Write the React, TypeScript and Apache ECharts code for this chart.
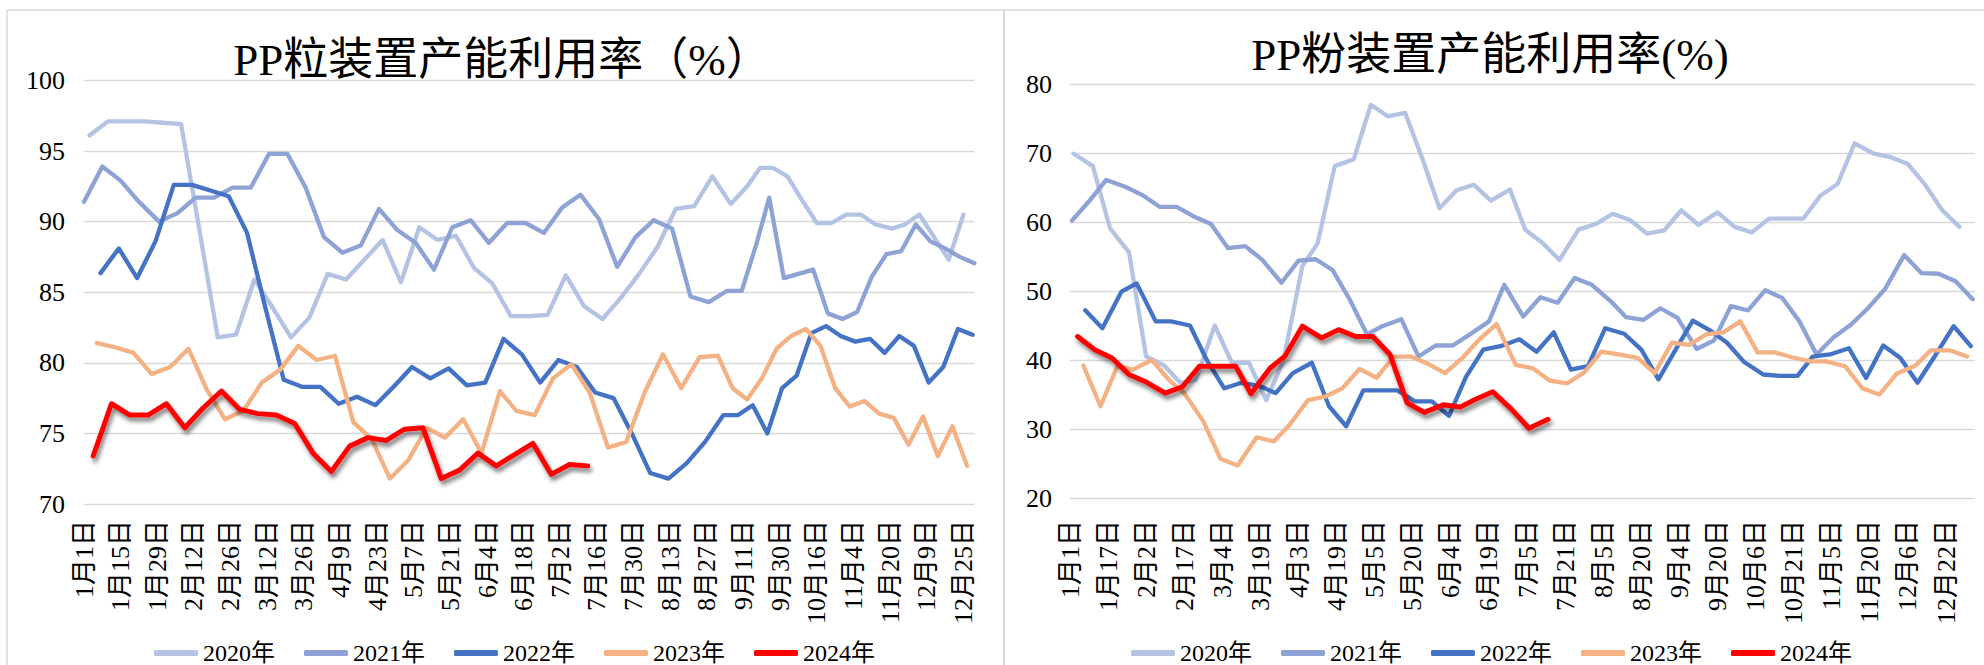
import React, { useEffect, useRef } from 'react';
import * as echarts from 'echarts';

// ---- tick labels ----
const granuleTicks = ['1月1日', '1月15日', '1月29日', '2月12日', '2月26日', '3月12日', '3月26日', '4月9日', '4月23日', '5月7日', '5月21日', '6月4日', '6月18日', '7月2日', '7月16日', '7月30日', '8月13日', '8月27日', '9月11日', '9月30日', '10月16日', '11月4日', '11月20日', '12月9日', '12月25日'];
const powderTicks = ['1月1日', '1月17日', '2月2日', '2月17日', '3月4日', '3月19日', '4月3日', '4月19日', '5月5日', '5月20日', '6月4日', '6月19日', '7月5日', '7月21日', '8月5日', '8月20日', '9月4日', '9月20日', '10月6日', '10月21日', '11月5日', '11月20日', '12月6日', '12月22日'];
const years = ['2020年', '2021年', '2022年', '2023年', '2024年'];
const colors = ['#B4C2E4', '#8EA2D5', '#4472C4', '#F4B183', '#FF0000'];

// ---- PP粒 (x in tick-label units, y in %) ----
const granule2020: [number, number][] = [[0.15, 96.1], [0.65, 97.1], [1.15, 97.1], [1.65, 97.1], [2.15, 97.0], [2.65, 96.9], [3.15, 89.4], [3.65, 81.8], [4.15, 82.0], [4.65, 85.9], [5.15, 83.9], [5.65, 81.8], [6.15, 83.2], [6.65, 86.3], [7.15, 85.9], [7.65, 87.3], [8.15, 88.7], [8.65, 85.7], [9.15, 89.6], [9.65, 88.7], [10.15, 89.0], [10.65, 86.7], [11.15, 85.6], [11.65, 83.3], [12.15, 83.3], [12.65, 83.4], [13.15, 86.2], [13.65, 84.0], [14.15, 83.1], [14.65, 84.6], [15.15, 86.3], [15.65, 88.2], [16.15, 90.9], [16.65, 91.1], [17.15, 93.2], [17.65, 91.25], [18.1, 92.5], [18.45, 93.8], [18.8, 93.8], [19.2, 93.2], [19.6, 91.5], [20.0, 89.9], [20.4, 89.9], [20.8, 90.5], [21.2, 90.5], [21.6, 89.8], [22.05, 89.5], [22.4, 89.8], [22.8, 90.5], [23.2, 88.9], [23.6, 87.3], [24.0, 90.5]];
const granule2021: [number, number][] = [[0, 91.4], [0.5, 93.9], [1.0, 92.9], [1.5, 91.4], [2.05, 90.0], [2.55, 90.6], [3.05, 91.7], [3.55, 91.7], [4.05, 92.4], [4.55, 92.4], [5.05, 94.8], [5.55, 94.8], [6.05, 92.4], [6.55, 88.9], [7.05, 87.8], [7.55, 88.3], [8.05, 90.9], [8.55, 89.4], [9.05, 88.5], [9.55, 86.6], [10.05, 89.6], [10.55, 90.1], [11.05, 88.5], [11.55, 89.9], [12.05, 89.9], [12.55, 89.2], [13.05, 91.0], [13.55, 91.9], [14.05, 90.2], [14.55, 86.8], [15.05, 88.9], [15.55, 90.1], [16.05, 89.5], [16.55, 84.7], [17.05, 84.3], [17.55, 85.1], [17.95, 85.1], [18.35, 88.4], [18.7, 91.7], [19.1, 86.0], [19.5, 86.3], [19.9, 86.6], [20.3, 83.5], [20.7, 83.1], [21.1, 83.6], [21.5, 86.1], [21.9, 87.7], [22.3, 87.9], [22.7, 89.8], [23.1, 88.6], [23.5, 88.1], [23.9, 87.5], [24.3, 87.05]];
const granule2022: [number, number][] = [[0.45, 86.35], [0.95, 88.1], [1.45, 86.0], [1.95, 88.6], [2.45, 92.6], [2.95, 92.6], [3.45, 92.2], [3.95, 91.8], [4.45, 89.2], [4.95, 83.9], [5.45, 78.8], [5.95, 78.3], [6.45, 78.3], [6.95, 77.1], [7.45, 77.6], [7.95, 77.0], [8.45, 78.3], [8.95, 79.7], [9.45, 78.9], [9.95, 79.6], [10.45, 78.4], [10.95, 78.6], [11.45, 81.7], [11.95, 80.6], [12.45, 78.6], [12.95, 80.2], [13.45, 79.7], [13.95, 77.9], [14.45, 77.5], [14.95, 75.0], [15.45, 72.2], [15.95, 71.8], [16.45, 72.9], [16.95, 74.4], [17.45, 76.3], [17.85, 76.3], [18.25, 77.0], [18.65, 75.0], [19.05, 78.2], [19.45, 79.1], [19.85, 82.1], [20.25, 82.6], [20.65, 81.9], [21.05, 81.5], [21.45, 81.7], [21.85, 80.7], [22.25, 81.9], [22.65, 81.2], [23.05, 78.6], [23.45, 79.7], [23.85, 82.4], [24.25, 81.98]];
const granule2023: [number, number][] = [[0.35, 81.4], [0.85, 81.1], [1.35, 80.7], [1.85, 79.2], [2.35, 79.7], [2.85, 81.0], [3.35, 78.1], [3.85, 76.0], [4.35, 76.6], [4.85, 78.6], [5.35, 79.5], [5.85, 81.2], [6.35, 80.2], [6.85, 80.5], [7.35, 75.8], [7.85, 74.6], [8.35, 71.8], [8.85, 73.1], [9.35, 75.4], [9.85, 74.7], [10.35, 76.0], [10.85, 73.6], [11.35, 78.0], [11.8, 76.6], [12.3, 76.3], [12.8, 78.9], [13.3, 79.9], [13.8, 77.9], [14.3, 74.0], [14.8, 74.4], [15.3, 77.9], [15.8, 80.6], [16.3, 78.2], [16.8, 80.4], [17.3, 80.5], [17.7, 78.2], [18.1, 77.4], [18.5, 78.9], [18.9, 81.0], [19.3, 81.9], [19.7, 82.4], [20.1, 81.2], [20.5, 78.2], [20.9, 76.9], [21.3, 77.3], [21.7, 76.4], [22.1, 76.1], [22.5, 74.2], [22.9, 76.2], [23.3, 73.4], [23.7, 75.5], [24.1, 72.7]];
const granule2024: [number, number][] = [[0.25, 73.4], [0.75, 77.1], [1.25, 76.3], [1.75, 76.3], [2.25, 77.1], [2.75, 75.4], [3.25, 76.8], [3.75, 78.0], [4.25, 76.7], [4.75, 76.4], [5.25, 76.3], [5.75, 75.7], [6.25, 73.6], [6.75, 72.3], [7.25, 74.1], [7.75, 74.7], [8.25, 74.5], [8.75, 75.3], [9.25, 75.4], [9.75, 71.8], [10.25, 72.4], [10.75, 73.6], [11.25, 72.7], [11.75, 73.5], [12.25, 74.3], [12.75, 72.1], [13.25, 72.8], [13.75, 72.7]];

// ---- PP粉 ----
const powder2020: [number, number][] = [[0.1, 69.9], [0.6, 68.1], [1.05, 59.1], [1.55, 55.6], [2.0, 40.5], [2.45, 39.3], [2.9, 36.7], [3.3, 37.1], [3.8, 45.0], [4.25, 39.6], [4.7, 39.6], [5.15, 34.2], [5.6, 39.8], [6.1, 53.6], [6.5, 56.9], [6.95, 68.1], [7.45, 69.1], [7.9, 77.0], [8.35, 75.3], [8.8, 75.8], [9.25, 69.2], [9.7, 62.0], [10.15, 64.6], [10.6, 65.4], [11.05, 63.1], [11.55, 64.7], [11.95, 58.9], [12.4, 57.0], [12.85, 54.5], [13.35, 58.9], [13.8, 59.7], [14.25, 61.2], [14.7, 60.3], [15.15, 58.3], [15.6, 58.8], [16.05, 61.7], [16.5, 59.6], [17.0, 61.4], [17.45, 59.3], [17.9, 58.5], [18.35, 60.5], [18.8, 60.5], [19.25, 60.5], [19.7, 63.8], [20.15, 65.5], [20.6, 71.4], [21.1, 69.9], [21.55, 69.4], [22.0, 68.4], [22.45, 65.4], [22.9, 61.7], [23.35, 59.3]];
const powder2021: [number, number][] = [[0.05, 60.2], [0.5, 63.0], [0.95, 66.1], [1.45, 65.1], [1.9, 63.9], [2.35, 62.2], [2.8, 62.2], [3.25, 60.8], [3.7, 59.7], [4.15, 56.2], [4.6, 56.5], [5.05, 54.5], [5.55, 51.2], [6.0, 54.4], [6.45, 54.6], [6.9, 53.0], [7.35, 48.7], [7.8, 43.7], [8.2, 44.9], [8.7, 45.9], [9.15, 40.5], [9.6, 42.1], [10.05, 42.1], [10.55, 43.9], [11.0, 45.6], [11.4, 50.9], [11.9, 46.3], [12.35, 49.1], [12.8, 48.3], [13.25, 51.9], [13.7, 50.9], [14.2, 48.5], [14.6, 46.2], [15.05, 45.8], [15.5, 47.5], [15.95, 46.1], [16.45, 41.6], [16.9, 42.8], [17.35, 47.8], [17.8, 47.2], [18.25, 50.1], [18.7, 49.0], [19.15, 45.6], [19.6, 40.8], [20.05, 43.3], [20.5, 45.1], [20.95, 47.5], [21.4, 50.3], [21.9, 55.2], [22.35, 52.6], [22.8, 52.5], [23.25, 51.4], [23.7, 48.8]];
const powder2022: [number, number][] = [[0.4, 47.2], [0.85, 44.6], [1.35, 49.9], [1.75, 51.1], [2.25, 45.6], [2.65, 45.6], [3.15, 45.0], [3.6, 39.9], [4.05, 35.9], [4.5, 36.7], [4.95, 36.3], [5.4, 35.2], [5.85, 38.1], [6.35, 39.6], [6.8, 33.3], [7.25, 30.4], [7.7, 35.6], [8.15, 35.6], [8.6, 35.6], [9.05, 34.0], [9.5, 34.0], [9.95, 31.9], [10.4, 37.6], [10.85, 41.5], [11.3, 42.0], [11.8, 43.0], [12.25, 41.2], [12.7, 44.0], [13.15, 38.6], [13.6, 39.1], [14.05, 44.6], [14.55, 43.8], [15.0, 41.5], [15.45, 37.2], [15.9, 41.5], [16.35, 45.7], [16.8, 44.3], [17.25, 42.5], [17.7, 39.7], [18.2, 37.9], [18.65, 37.7], [19.1, 37.7], [19.5, 40.5], [19.95, 40.8], [20.45, 41.7], [20.9, 37.4], [21.35, 42.1], [21.8, 40.3], [22.25, 36.7], [22.7, 40.5], [23.2, 44.9], [23.65, 42.0]];
const powder2023: [number, number][] = [[0.35, 39.2], [0.8, 33.3], [1.25, 39.2], [1.65, 38.6], [2.15, 40.0], [2.6, 37.1], [3.0, 35.2], [3.5, 31.1], [3.95, 25.7], [4.4, 24.7], [4.9, 28.8], [5.35, 28.2], [5.75, 30.5], [6.25, 34.2], [6.7, 34.7], [7.15, 35.9], [7.6, 38.7], [8.05, 37.4], [8.5, 40.5], [8.95, 40.5], [9.45, 39.3], [9.85, 38.1], [10.3, 40.3], [10.75, 43.0], [11.2, 45.2], [11.7, 39.3], [12.15, 38.8], [12.6, 37.0], [13.05, 36.6], [13.5, 38.2], [13.95, 41.2], [14.4, 40.8], [14.9, 40.3], [15.35, 38.1], [15.8, 42.5], [16.25, 42.2], [16.7, 43.7], [17.15, 44.0], [17.6, 45.6], [18.05, 41.1], [18.5, 41.1], [18.95, 40.4], [19.45, 39.8], [19.85, 39.8], [20.35, 39.1], [20.8, 35.9], [21.25, 35.0], [21.7, 38.0], [22.2, 39.2], [22.6, 41.4], [23.1, 41.4], [23.55, 40.5]];
const powder2024: [number, number][] = [[0.2, 43.4], [0.65, 41.5], [1.1, 40.3], [1.55, 37.9], [2.0, 36.8], [2.5, 35.2], [2.95, 36.1], [3.4, 39.1], [3.85, 39.1], [4.35, 39.1], [4.75, 35.1], [5.25, 38.8], [5.65, 40.6], [6.1, 44.9], [6.6, 43.2], [7.05, 44.4], [7.5, 43.4], [7.95, 43.4], [8.4, 40.8], [8.85, 33.8], [9.3, 32.4], [9.8, 33.5], [10.25, 33.2], [10.65, 34.3], [11.1, 35.4], [11.6, 32.8], [12.05, 30.1], [12.55, 31.4]];

const granuleSeries = [granule2020, granule2021, granule2022, granule2023, granule2024];
const powderSeries = [powder2020, powder2021, powder2022, powder2023, powder2024];

const FONT = "'Liberation Serif', 'Noto Sans CJK SC', serif";

function buildSeries(sets: [number, number][][], axis: number) {
  return sets.map((data, i) => {
    const isRed = i === 4;
    return {
      type: 'line',
      name: years[i],
      xAxisIndex: axis,
      yAxisIndex: axis,
      data,
      symbol: 'none',
      showSymbol: false,
      smooth: false,
      z: 2 + i,
      itemStyle: { color: colors[i] },
      lineStyle: isRed
        ? { color: colors[i], width: 5, cap: 'round', join: 'round', shadowColor: 'rgba(0,0,0,0.5)', shadowBlur: 4, shadowOffsetX: 2, shadowOffsetY: 4 }
        : { color: colors[i], width: 4.3, cap: 'round', join: 'round' },
      emphasis: { disabled: true },
    };
  });
}

function xAxisFor(grid: number, ticks: string[], max: number, margin: number) {
  return {
    type: 'value',
    gridIndex: grid,
    min: 0,
    max,
    interval: 1,
    axisLine: { show: false },
    axisTick: { show: false },
    splitLine: { show: false },
    axisLabel: {
      rotate: 90,
      margin,
      fontSize: 26,
      fontFamily: FONT,
      color: '#000',
      showMaxLabel: false,
      formatter: (v: number) => (Number.isInteger(v) && ticks[v] !== undefined ? ticks[v] : ''),
    },
  };
}

function yAxisFor(grid: number, min: number, max: number, interval: number, margin: number) {
  return {
    type: 'value',
    gridIndex: grid,
    min,
    max,
    interval,
    axisLine: { show: false },
    axisTick: { show: false },
    splitLine: { lineStyle: { color: '#D9D9D9', width: 1.3 } },
    axisLabel: { margin, fontSize: 26, fontFamily: FONT, color: '#000' },
  };
}

function legendAt(left: number) {
  return {
    left,
    top: 636,
    orient: 'horizontal',
    data: years,
    icon: 'roundRect',
    itemWidth: 44,
    itemHeight: 6,
    itemGap: 29,
    selectedMode: false,
    textStyle: { fontSize: 24, fontFamily: FONT, color: '#000' },
  };
}

export default function App() {
  const ref = useRef<HTMLDivElement>(null);
  useEffect(() => {
    if (!ref.current) return;
    const chart = echarts.init(ref.current, null, { renderer: 'svg' });
    const option: any = {
      animation: false,
      backgroundColor: '#fff',
      title: [
        { text: 'PP粒装置产能利用率（%）', left: 497, top: 32, textAlign: 'center', textStyle: { fontSize: 45, fontWeight: 'normal', fontFamily: FONT, color: '#000' } },
        { text: 'PP粉装置产能利用率(%)', left: 1485, top: 27, textAlign: 'center', textStyle: { fontSize: 45, fontWeight: 'normal', fontFamily: FONT, color: '#000' } },
      ],
      graphic: [
        { type: 'rect', shape: { x: 7, y: 10, width: 997, height: 700 }, style: { fill: 'none', stroke: '#D9D9D9', lineWidth: 1.5 }, silent: true },
        { type: 'rect', shape: { x: 1004, y: 10, width: 990, height: 700 }, style: { fill: 'none', stroke: '#D9D9D9', lineWidth: 1.5 }, silent: true },
      ],
      legend: [legendAt(149), legendAt(1126)],
      grid: [
        { left: 84, top: 80.4, width: 890.4, height: 423.6 },
        { left: 1070, top: 84, width: 905, height: 414 },
      ],
      xAxis: [xAxisFor(0, granuleTicks, 24.3, 16), xAxisFor(1, powderTicks, 23.76, 22)],
      yAxis: [yAxisFor(0, 70, 100, 5, 19), yAxisFor(1, 20, 80, 10, 18)],
      series: [...buildSeries(granuleSeries, 0), ...buildSeries(powderSeries, 1)],
    };
    chart.setOption(option);
    return () => chart.dispose();
  }, []);
  return <div ref={ref} style={{ position: 'absolute', left: 0, top: 0, width: '1984px', height: '665px' }} />;
}
